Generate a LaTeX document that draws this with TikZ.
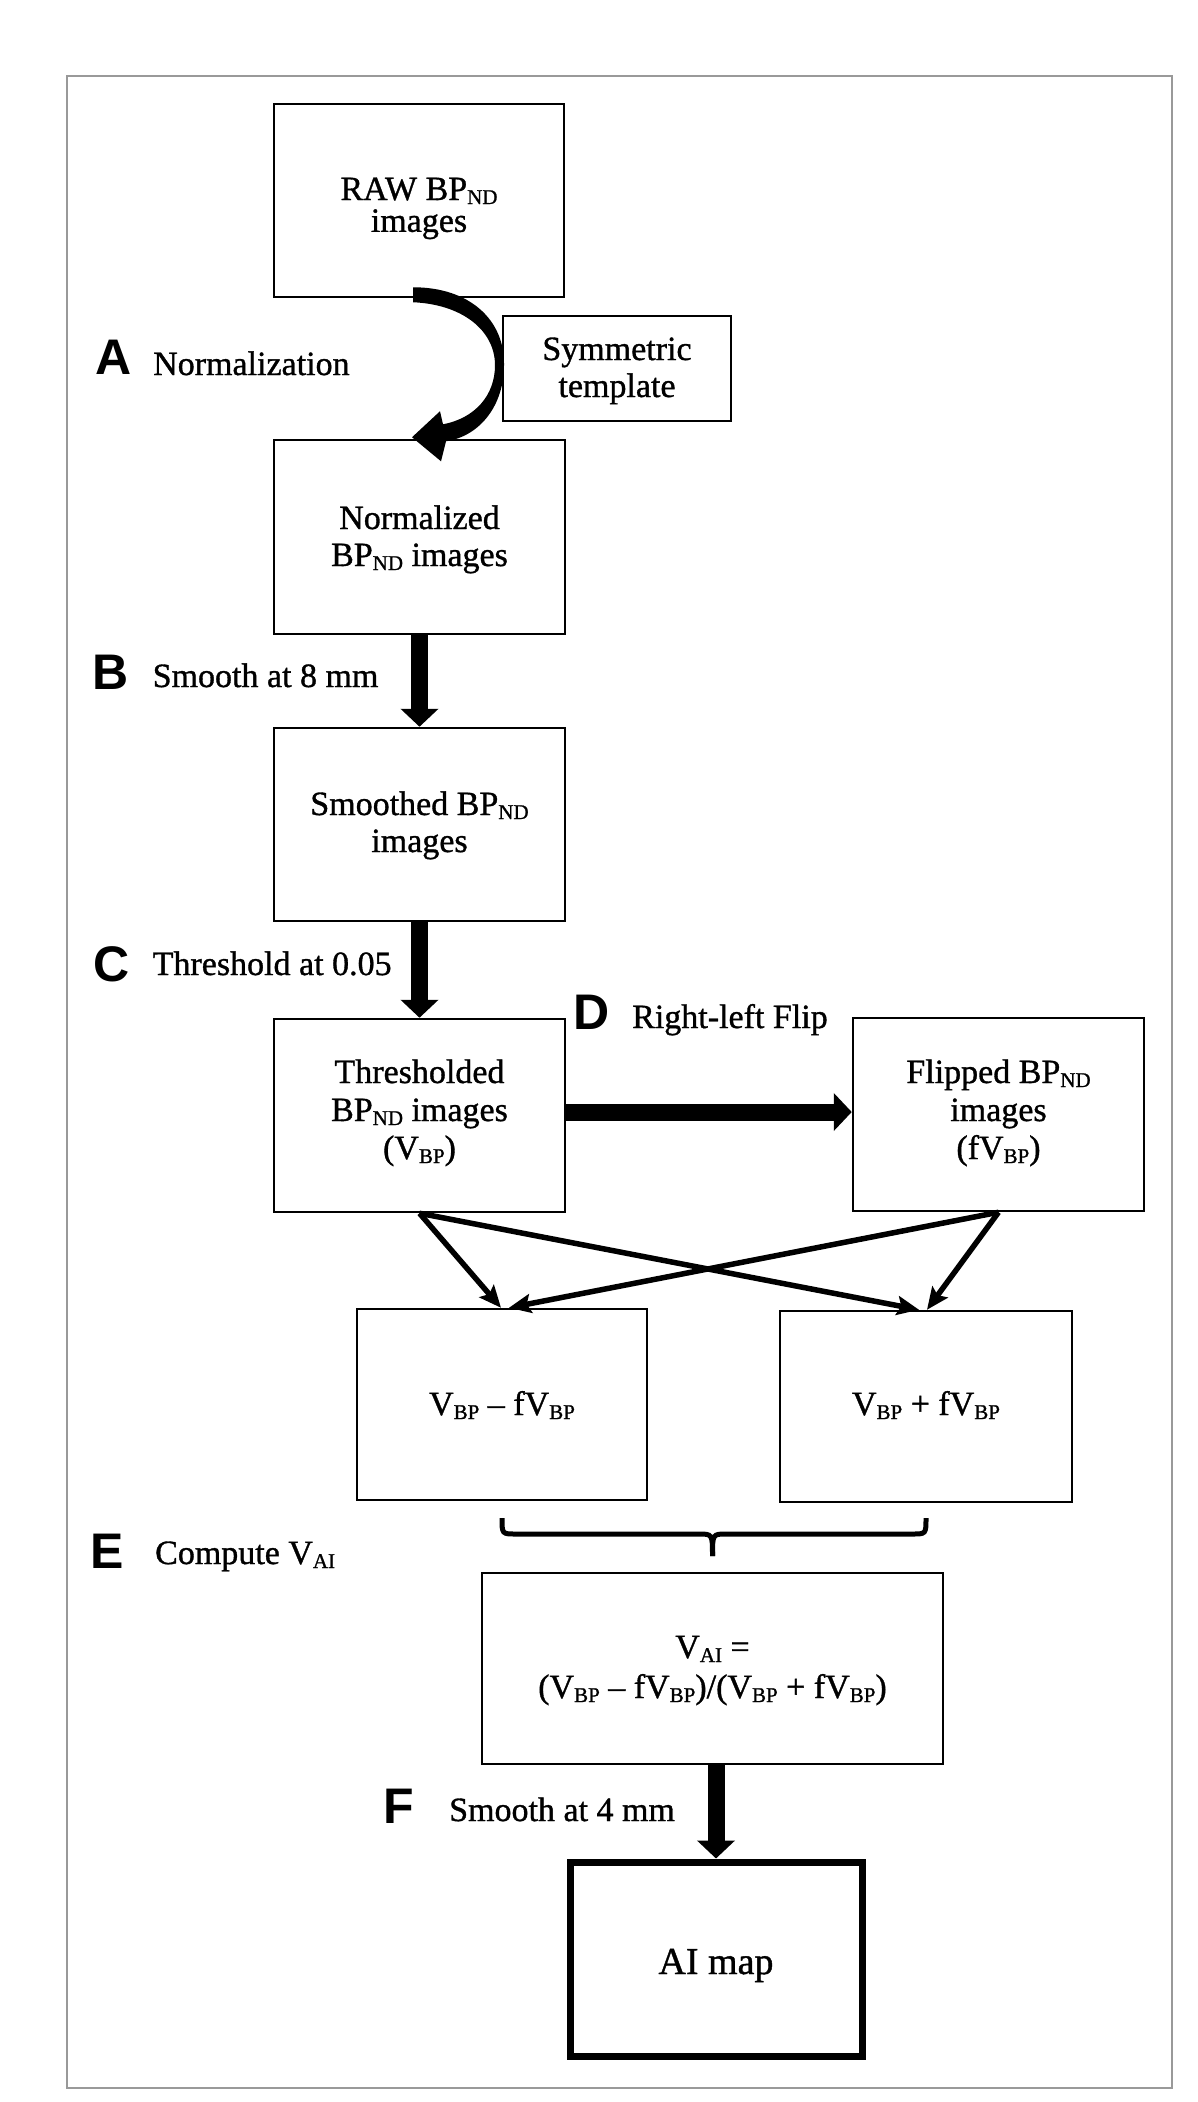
\documentclass[tikz,border=0pt]{standalone}
\usepackage{fontspec}
\setmainfont{Liberation Serif}[FakeBold=1.0]
\newfontfamily\lblfont{Liberation Sans}
\usetikzlibrary{arrows.meta,calc}
\newcommand\mysub[1]{\raisebox{-4bp}{\fontsize{21bp}{21bp}\selectfont #1}}
\newcommand\lns[2]{{\fontsize{34bp}{#1}\selectfont\begin{tabular}[t]{@{}c@{}}#2\end{tabular}}}
\begin{document}
\begin{tikzpicture}[x=1bp,y=-1bp,
  box/.style={draw=black, line width=2.5bp, inner sep=0pt},
  txt/.style={inner sep=0pt, anchor=base},
  note/.style={inner sep=0pt, anchor=base west, font=\fontsize{34bp}{40bp}\selectfont},
  lbl/.style={inner sep=0pt, anchor=base west, font=\lblfont\bfseries\fontsize{50bp}{50bp}\selectfont},
  fat/.style={line width=17bp, -{Triangle[length=18bp,width=37bp]}},
  cross/.style={line width=5.5bp, -{Stealth[length=22bp,width=19bp,inset=4bp]}},
  brc/.style={line width=5bp},
  frm/.style={draw=black!40, line width=2bp, inner sep=0pt}
]
\fill[white] (0,0) rectangle (1197,2102);
\useasboundingbox (0,0) rectangle (1197,2102);
\node[frm, minimum width=1105bp, minimum height=2012bp] (frame) at (619.5,1082) {};

% boxes
\node[box, minimum width=290bp, minimum height=193bp] (raw) at (419,200.5) {};
\node[box, minimum width=228bp, minimum height=105bp] (sym) at (617,368.5) {};
\node[box, minimum width=291bp, minimum height=194bp] (norm) at (419.5,537) {};
\node[box, minimum width=291bp, minimum height=193bp] (smooth) at (419.5,824.5) {};
\node[box, minimum width=291bp, minimum height=193bp] (thr) at (419.5,1115.5) {};
\node[box, minimum width=291bp, minimum height=193bp] (flip) at (998.5,1114.5) {};
\node[box, minimum width=290bp, minimum height=191bp] (lbox) at (502,1404.5) {};
\node[box, minimum width=292bp, minimum height=191bp] (rbox) at (926,1406.5) {};
\node[box, minimum width=461bp, minimum height=191bp] (vai) at (712.5,1668.5) {};
\node[box, line width=7bp, minimum width=292bp, minimum height=194bp] (ai) at (716,1959) {};

% box texts
\node[txt] (rawt) at (419,200) {\lns{31bp}{RAW BP\mysub{ND}\\images}};
\node[txt] (symt) at (617,360) {\lns{37bp}{Symmetric\\template}};
\node[txt] (normt) at (419.5,529) {\lns{37bp}{Normalized\\BP\mysub{ND} images}};
\node[txt] (smootht) at (419.5,815) {\lns{37bp}{Smoothed BP\mysub{ND}\\images}};
\node[txt] (thrt) at (419.5,1083) {\lns{38bp}{Thresholded\\BP\mysub{ND} images\\(V\mysub{BP})}};
\node[txt] (flipt) at (998.5,1083) {\lns{38bp}{Flipped BP\mysub{ND}\\images\\(fV\mysub{BP})}};
\node[txt] (lboxt) at (502,1415) {\lns{38bp}{V\mysub{BP} – fV\mysub{BP}}};
\node[txt] (rboxt) at (926,1415) {\lns{38bp}{V\mysub{BP} + fV\mysub{BP}}};
\node[txt] (vait) at (712.5,1658) {\lns{40bp}{V\mysub{AI} =\\(V\mysub{BP} – fV\mysub{BP})/(V\mysub{BP} + fV\mysub{BP})}};
\node[txt, font=\fontsize{38bp}{40bp}\selectfont] (ait) at (716,1974) {AI map};

% step labels
\node[lbl] (la) at (95,374) {A};
\node[note] (na) at (153,375) {Normalization};
\node[lbl] (lb) at (92.5,689) {B};
\node[note] (nb) at (152.5,687) {Smooth at 8 mm};
\node[lbl] (lc) at (93,981) {C};
\node[note] (nc) at (152.5,975) {Threshold at 0.05};
\node[lbl] (ld) at (573,1029) {D};
\node[note] (nd) at (632,1028) {Right-left Flip};
\node[lbl] (le) at (90,1568) {E};
\node[note] (ne) at (155,1564) {Compute V\mysub{AI}};
\node[lbl] (lf) at (383.5,1823) {F};
\node[note] (nf) at (449,1821) {Smooth at 4 mm};

% curved normalization arrow (tapered, from RAW box to normalized box)
\fill[shift={(raw.south)}] (-6,-11) .. controls (51,-11) and (86,22) .. (85,67)
  .. controls (85,107) and (61,138) .. (27,143) -- (22,163) -- (-7,139) -- (21,113) -- (24,126)
  .. controls (56,120) and (76,97) .. (76,67) .. controls (76,32) and (43,6) .. (-6,4) -- cycle;

% thick arrows
\draw[fat] (norm.south) -- (smooth.north);
\draw[fat] (smooth.south) -- (thr.north);
\draw[fat] ($(thr.east)+(0,-3.5)$) -- ($(flip.west)+(0,-2.5)$);
\draw[fat] (vai.south -| ai.north) -- (ai.north);

% crossing arrows
\draw[cross] (thr.south) -- ($(lbox.north)+(-1,0)$);
\draw[cross] (thr.south) -- ($(rbox.north)+(-7,0)$);
\draw[cross] (flip.south) -- ($(lbox.north)+(7,0)$);
\draw[cross] (flip.south) -- ($(rbox.north)+(1,0)$);

% brace
\coordinate (bl) at ($(lbox.south)+(0,16.75)$);
\coordinate (br) at ($(rbox.south)+(0,14.75)$);
\coordinate (bt) at ($(vai.north)+(0,-15.75)$);
\draw[brc] (bl) .. controls ($(bl)+(0,16)$) .. ($(bl)+(14,16)$) -- ($(bt)+(-14,-22)$) .. controls ($(bt)+(0,-22)$) .. (bt);
\draw[brc] (br) .. controls ($(br)+(0,16)$) .. ($(br)+(-14,16)$) -- ($(bt)+(14,-22)$) .. controls ($(bt)+(0,-22)$) .. (bt);
\end{tikzpicture}
\end{document}
